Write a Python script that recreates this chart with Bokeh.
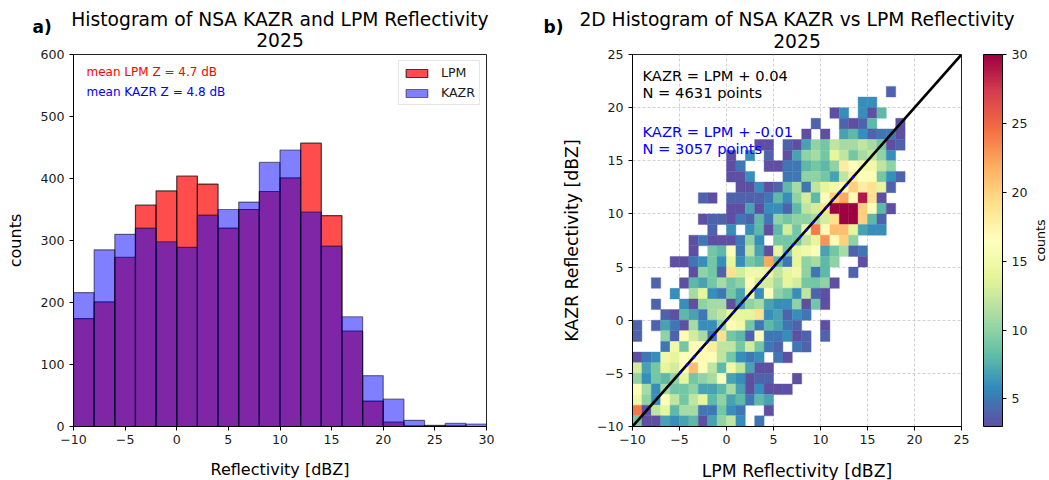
from bokeh.plotting import figure
from bokeh.models import (Label, LinearColorMapper, ColorBar, FixedTicker, ColumnDataSource,
                          Legend, LegendItem, Range1d)
from bokeh.layouts import row
from bokeh.palettes import Spectral11
from bokeh.transform import transform
from bokeh.embed import file_html
from bokeh.resources import INLINE

bin_left = list(range(-10, 30, 2))
lpm_counts = [174, 201, 273, 357, 380, 404, 391, 320, 350, 379, 401, 457, 340, 154, 41, 7, 1, 1, 1, 0]
kazr_counts = [216, 285, 310, 320, 298, 289, 341, 350, 362, 426, 446, 346, 291, 177, 82, 44, 10, 2, 5, 4]
hist_xticks = [-10, -5, 0, 5, 10, 15, 20, 25, 30]
hist_yticks = [0, 100, 200, 300, 400, 500, 600]

# y bin (lower edge) -> first x bin, counts from there on
r21 = (17, [4])
r20 = (14, [6, 6])
r19 = (11, [3, 6, 0, 6, 3, 8])
r18 = (9, [4, 0, 0, 4, 3, 4, 8, 0, 0, 3])
r17 = (8, [3, 0, 3, 0, 7, 8, 6, 4, 5, 5, 3])
r16 = (3, [3, 3, 0, 4, 3, 7, 10, 9, 12, 11, 11, 12, 11, 9, 3, 4])
r15 = (0, [3, 0, 6, 0, 4, 0, 3, 7, 10, 11, 9, 14, 12, 9, 11, 12, 10, 6])
r14 = (0, [3, 5, 0, 0, 3, 3, 5, 5, 8, 9, 8, 10, 18, 16, 15, 15, 12, 10])
r13 = (0, [3, 3, 6, 0, 0, 0, 5, 5, 10, 10, 9, 7, 12, 18, 16, 17, 9, 6, 4])
r12 = (1, [3, 3, 6, 3, 4, 8, 11, 5, 12, 14, 15, 17, 20, 18, 19, 14, 4])
r11 = (-3, [4, 3, 0, 4, 4, 4, 4, 5, 8, 6, 10, 13, 8, 16, 20, 22, 17, 29, 19, 3])
r10 = (0, [3, 3, 7, 3, 6, 6, 4, 8, 12, 13, 19, 30, 30, 30, 20, 16, 8, 3])
r9 = (-3, [3, 4, 4, 3, 5, 4, 8, 5, 10, 9, 10, 10, 11, 13, 19, 30, 30, 20, 8, 4])
r8 = (-2, [4, 0, 6, 0, 6, 8, 3, 8, 13, 9, 15, 24, 17, 21, 21, 14, 7, 6, 6])
r7 = (-4, [3, 5, 3, 3, 3, 5, 10, 6, 0, 9, 9, 9, 12, 14, 23, 17, 20, 10])
r6 = (-4, [3, 0, 9, 8, 16, 5, 12, 7, 3, 14, 9, 14, 15, 16, 7, 9, 11, 4, 5])
r5 = (-6, [3, 3, 5, 6, 9, 6, 14, 6, 9, 8, 22, 8, 5, 14, 10, 11, 8, 10, 0, 0, 3])
r4 = (-4, [3, 10, 9, 4, 19, 13, 15, 15, 14, 12, 14, 15, 10, 5, 8, 0, 0, 4])
r3 = (-8, [4, 0, 0, 3, 8, 7, 9, 11, 9, 10, 17, 13, 13, 11, 14, 13, 9, 9, 10, 3])
r2 = (-6, [6, 0, 11, 14, 6, 5, 9, 7, 15, 6, 16, 10, 9, 6, 12, 4, 3])
r1 = (-8, [4, 0, 0, 6, 3, 10, 11, 11, 3, 7, 10, 11, 7, 6, 6, 10, 3, 9, 3])
r0 = (-7, [4, 3, 8, 7, 5, 11, 12, 14, 14, 14, 19, 6, 7, 4, 6, 5])
m1 = (-10, [4, 0, 4, 7, 5, 3, 11, 6, 6, 10, 17, 15, 9, 5, 8, 7, 5, 4, 0, 0, 3])
m2 = (-10, [4, 0, 0, 10, 4, 17, 13, 11, 5, 19, 9, 8, 4, 16, 5, 5, 6, 3, 4, 0, 4])
m3 = (-7, [5, 15, 9, 17, 17, 18, 12, 12, 9, 13, 9, 5, 4, 0, 5, 4])
m4 = (-10, [3, 5, 6, 15, 14, 16, 16, 17, 16, 12, 9, 6, 5, 6, 0, 5, 3])
m5 = (-10, [13, 7, 9, 14, 13, 17, 21, 16, 12, 8, 15, 12, 7, 3, 3])
m6 = (-10, [10, 6, 9, 8, 10, 14, 9, 10, 11, 16, 7, 6, 3, 4, 4, 0, 0, 3])
m7 = (-10, [16, 11, 6, 11, 9, 9, 10, 7, 7, 8, 11, 7, 3, 6, 3, 3, 3])
m8 = (-10, [15, 10, 6, 16, 12, 9, 12, 14, 8, 10, 7, 8, 5, 8, 7])
m9 = (-10, [24, 3, 12, 14, 8, 11, 11, 5, 5, 9, 6, 5, 0, 0, 3])
m10 = (-10, [9, 3, 3, 7, 6, 7, 8, 3, 7, 10, 12, 6, 0, 5])
rows2d = {21: r21, 20: r20, 19: r19, 18: r18, 17: r17, 16: r16, 15: r15, 14: r14, 13: r13, 12: r12,
          11: r11, 10: r10, 9: r9, 8: r8, 7: r7, 6: r6, 5: r5, 4: r4, 3: r3, 2: r2, 1: r1, 0: r0,
          -1: m1, -2: m2, -3: m3, -4: m4, -5: m5, -6: m6, -7: m7, -8: m8, -9: m9, -10: m10}
ticks2d = [-10, -5, 0, 5, 10, 15, 20, 25]
cbar_ticks = [5, 10, 15, 20, 25, 30]
one_to_one = [-10, 25]
fit_range = [-5, 14]

FONT = "DejaVu Sans"
TXT = "#1a1a1a"


def hex2rgb(h):
    return [int(h[i:i + 2], 16) for i in (1, 3, 5)]


stops = [hex2rgb(c) for c in Spectral11]
if stops[0][0] > stops[0][2]:
    stops = stops[::-1]
palette = []
for i in range(256):
    t = i / 255 * 10
    k = min(int(t), 9)
    f = t - k
    palette.append("#%02x%02x%02x" % tuple(round(stops[k][c] * (1 - f) + stops[k + 1][c] * f) for c in range(3)))


def style(p, xticks, yticks):
    for ax in (p.xaxis[0], p.yaxis[0]):
        ax.major_tick_in = 0
        ax.major_tick_out = 4
        ax.minor_tick_line_color = None
        ax.major_label_text_font = FONT
        ax.major_label_text_font_size = "12.6px"
        ax.major_label_text_color = TXT
        ax.major_tick_line_color = "black"
        ax.axis_line_color = "black"
        ax.axis_label_text_font = FONT
        ax.axis_label_text_font_style = "normal"
        ax.axis_label_text_color = "black"
    p.xaxis[0].ticker = FixedTicker(ticks=xticks)
    p.yaxis[0].ticker = FixedTicker(ticks=yticks)
    p.xaxis[0].major_label_standoff = 4
    p.xaxis[0].major_label_overrides = {t: str(t).replace("-", "\u2212") for t in xticks}
    p.yaxis[0].major_label_overrides = {t: str(t).replace("-", "\u2212") for t in yticks}
    p.outline_line_color = "#222222"
    p.outline_line_width = 1


def outside(p, side, x, y, text, size, style="normal", align="center", angle=0):
    """Text outside the frame sits in a side panel, placed through the plot's scales."""
    p.add_layout(Label(x=x, y=y, text=text, text_color="black", text_font=FONT, text_font_size=size,
                       text_font_style=style, text_align=align, text_baseline="middle", angle=angle), side)


# panel a
p1 = figure(width=518, height=480, x_range=Range1d(-10, 30), y_range=Range1d(0, 600),
            toolbar_location=None, output_backend="svg", min_border_left=73, min_border_right=32,
            min_border_top=54, min_border_bottom=54, background_fill_color="white")
p1.grid.visible = False
style(p1, hist_xticks, hist_yticks)
red = p1.vbar(x=[b + 1 for b in bin_left], width=2, top=lpm_counts, bottom=0, fill_color="red", fill_alpha=0.7,
              line_color="black", line_alpha=0.7, line_width=1.2)
blue = p1.vbar(x=[b + 1 for b in bin_left], width=2, top=kazr_counts, bottom=0, fill_color="blue", fill_alpha=0.5,
               line_color="black", line_alpha=0.5, line_width=1.2)
p1.yaxis[0].axis_label = "counts"
p1.yaxis[0].axis_label_text_font_size = "16px"
p1.yaxis[0].axis_label_standoff = 12
outside(p1, "below", 10, -69.4, "Reflectivity [dBZ]", "16px")
outside(p1, "above", 10, 656.5, "Histogram of NSA KAZR and LPM Reflectivity", "18.7px")
outside(p1, "above", 10, 622.6, "2025", "18.7px")
outside(p1, "right", -13.97, 645, "a)", "17px", style="bold", align="left")
leg = Legend(items=[LegendItem(label="LPM", renderers=[red]), LegendItem(label="KAZR", renderers=[blue])],
             location="top_right", label_text_font=FONT, label_text_font_size="12.6px", label_text_color=TXT,
             border_line_color="#cccccc", background_fill_alpha=0.8, margin=6, padding=4, spacing=5,
             glyph_width=27, glyph_height=10, label_height=14, label_standoff=11)
p1.add_layout(leg)
p1.add_layout(Label(x=-8.74, y=571, text="mean LPM Z = 4.7 dB", text_color="red", text_font=FONT,
                    text_font_size="12px", text_baseline="middle"))
p1.add_layout(Label(x=-8.74, y=540, text="mean KAZR Z = 4.8 dB", text_color="blue", text_font=FONT,
                    text_font_size="12px", text_baseline="middle"))

# panel b
xs, ys, vals = [], [], []
for yb, (first, counts) in rows2d.items():
    for i, c in enumerate(counts):
        if c > 0:
            xs.append(first + i + 0.5)
            ys.append(yb + 0.5)
            vals.append(c)
mapper = LinearColorMapper(palette=palette, low=3, high=30)
src = ColumnDataSource(dict(x=xs, y=ys, v=vals))
p2 = figure(width=531, height=480, x_range=Range1d(-10, 25), y_range=Range1d(-10, 25),
            toolbar_location=None, output_backend="svg", min_border_left=114, min_border_right=88,
            min_border_top=54, min_border_bottom=54)
style(p2, ticks2d, ticks2d)
p2.grid.grid_line_color = "#c4c4c4"
p2.grid.grid_line_dash = "3 2"
p2.grid.grid_line_width = 0.8
p2.rect(x="x", y="y", width=1, height=1, source=src, fill_color=transform("v", mapper),
        line_color=transform("v", mapper), line_width=0.4)
p2.line(one_to_one, one_to_one, line_color="black", line_width=2.6)
p2.line(fit_range, fit_range, line_color="#0000ff", line_width=2.4, line_dash="3 7")
p2.yaxis[0].axis_label = "KAZR Reflectivity [dBZ]"
p2.yaxis[0].axis_label_text_font_size = "17.3px"
p2.yaxis[0].axis_label_standoff = 12
outside(p2, "below", 7.5, -14.14, "LPM Reflectivity [dBZ]", "17.3px")
outside(p2, "above", 7.5, 28.3, "2D Histogram of NSA KAZR vs LPM Reflectivity", "18.7px")
outside(p2, "above", 7.5, 26.3, "2025", "18.7px")
outside(p2, "left", -19.47, 27.6, "b)", "17px", style="bold", align="left")
for y, txt, col in [(23.0, "KAZR = LPM + 0.04", "black"), (21.4, "N = 4631 points", "black"),
                    (17.75, "KAZR = LPM + -0.01", "blue"), (16.15, "N = 3057 points", "blue")]:
    p2.add_layout(Label(x=-8.94, y=y, text=txt, text_color=col, text_font=FONT, text_font_size="14.7px",
                        text_baseline="middle"))
cb = ColorBar(color_mapper=mapper, ticker=FixedTicker(ticks=cbar_ticks), width=19, padding=0, margin=0,
              location=(22, 0),
              major_label_text_font=FONT, major_label_text_font_size="12.6px", major_label_text_color=TXT,
              major_tick_in=0, major_tick_out=4, major_tick_line_color="black", minor_tick_line_color=None,
              bar_line_color="black", label_standoff=5, title=None)
p2.add_layout(cb, "right")
outside(p2, "right", 33.4, 7.5, "counts", "12.6px", angle=1.5708)

layout = row(p1, p2, spacing=0)
open("out.html", "w").write(file_html(layout, INLINE))
